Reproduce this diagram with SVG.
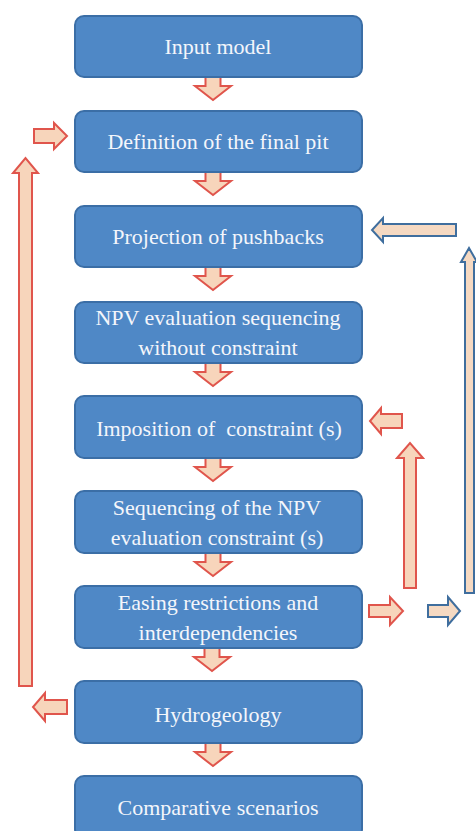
<svg xmlns="http://www.w3.org/2000/svg" xmlns:xlink="http://www.w3.org/1999/xlink" width="476" height="831" viewBox="0 0 476 831">
<style>
.box{fill:#4f88c6;stroke:#3b6ea6;stroke-width:2}
.lbl{font-family:'Liberation Serif','Times New Roman','DejaVu Serif',serif;font-size:22px;fill:#f4f6fb;text-anchor:middle}
.ra{fill:#f7d5bb;stroke:#e0554c;stroke-width:2;stroke-linejoin:miter}
.ba{fill:#f5d9c2;stroke:#3f6e9e;stroke-width:2;stroke-linejoin:miter}
</style>
<defs>
<path id="down" d="M-7.5,0 H7.5 V9 H18 L0,23 L-18,9 H-7.5 Z"/>
</defs>
<rect width="476" height="831" fill="#ffffff"/>
<g id="connectors">
<use xlink:href="#down" class="ra" x="213" y="77"/>
<use xlink:href="#down" class="ra" x="213" y="172"/>
<use xlink:href="#down" class="ra" x="213" y="267"/>
<use xlink:href="#down" class="ra" x="213" y="363"/>
<use xlink:href="#down" class="ra" x="213" y="458"/>
<use xlink:href="#down" class="ra" x="213" y="553"/>
<use xlink:href="#down" class="ra" x="212" y="648"/>
<use xlink:href="#down" class="ra" x="213" y="743"/>
<path class="ra" d="M19,686 V173 H13 L25.5,158 L38,173 H32 V686 Z"/>
<path class="ra" d="M34,129 H54 V123 L67,136 L54,149 V143 H34 Z"/>
<path class="ra" d="M67,700 H45 V693 L33,707 L45,721 V714 H67 Z"/>
<path class="ra" d="M404,588 V458 H397 L410,443 L423,458 H416 V588 Z"/>
<path class="ra" d="M402,414 H381 V408 L370,421 L381,434 V428 H402 Z"/>
<path class="ra" d="M369,605 H390 V597 L403,611 L390,625 V617 H369 Z"/>
<path class="ba" d="M465,593 V262 H461 L469,248 L477,262 H474 V593 Z"/>
<path class="ba" d="M456,224 H383 V218 L372,230 L383,242 V236 H456 Z"/>
<path class="ba" d="M428,605 H448 V597 L460,611 L448,625 V617 H428 Z"/>
</g>
<g id="n1"><rect class="box" x="75" y="16" width="287" height="61" rx="9"/><text class="lbl" font-family="Liberation Serif, serif" x="218" y="54">Input model</text></g>
<g id="n2"><rect class="box" x="75" y="111" width="287" height="61" rx="9"/><text class="lbl" x="218" y="149">Definition of the final pit</text></g>
<g id="n3"><rect class="box" x="75" y="206" width="287" height="61" rx="9"/><text class="lbl" x="218" y="244">Projection of pushbacks</text></g>
<g id="n4"><rect class="box" x="75" y="302" width="287" height="61" rx="9"/><text class="lbl" x="218" y="325">NPV evaluation sequencing</text><text class="lbl" x="218" y="355">without constraint</text></g>
<g id="n5"><rect class="box" x="75" y="396" width="287" height="62" rx="9"/><text class="lbl" x="219" y="436" xml:space="preserve">Imposition of  constraint (s)</text></g>
<g id="n6"><rect class="box" x="75" y="491" width="287" height="62" rx="9"/><text class="lbl" x="217" y="515">Sequencing of the NPV</text><text class="lbl" x="217" y="545">evaluation constraint (s)</text></g>
<g id="n7"><rect class="box" x="75" y="586" width="287" height="62" rx="9"/><text class="lbl" x="218" y="610">Easing restrictions and</text><text class="lbl" x="218" y="640">interdependencies</text></g>
<g id="n8"><rect class="box" x="75" y="681" width="287" height="62" rx="9"/><text class="lbl" x="218" y="722">Hydrogeology</text></g>
<g id="n9"><rect class="box" x="75" y="776" width="287" height="62" rx="9"/><text class="lbl" x="218" y="815">Comparative scenarios</text></g>
</svg>
